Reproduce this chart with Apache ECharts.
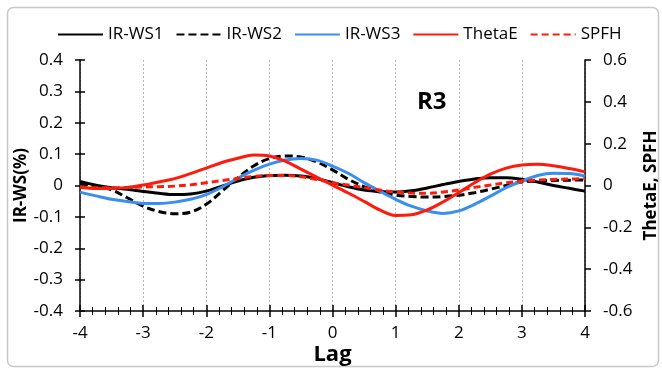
<!DOCTYPE html>
<html>
	<head>
		<meta charset="utf-8">
		<title>R3</title>
		<script src="https://cdn.jsdelivr.net/npm/echarts@6/dist/echarts.min.js"></script>
	</head>
	<body style="margin:0;background:#fff">
		<div id="container" style="width:662px;height:370px;"></div>
		<script type="text/javascript">
			// lag values (x axis), every 0.25
			var lags = [-4, -3.75, -3.5, -3.25, -3, -2.75, -2.5, -2.25, -2, -1.75, -1.5, -1.25, -1, -0.75, -0.5, -0.25,
				0, 0.25, 0.5, 0.75, 1, 1.25, 1.5, 1.75, 2, 2.25, 2.5, 2.75, 3, 3.25, 3.5, 3.75, 4];
			// left axis series: IR-WS (%)
			var irws1 = [0.013, 0.001, -0.007, -0.012, -0.019, -0.025, -0.029, -0.027, -0.018, -0.002, 0.014, 0.026, 0.032, 0.033, 0.030, 0.022,
				0.009, -0.004, -0.014, -0.019, -0.021, -0.017, -0.008, 0.003, 0.013, 0.021, 0.025, 0.025, 0.020, 0.011, 0.000, -0.009, -0.018];
			var irws2 = [0.005, -0.002, -0.014, -0.039, -0.066, -0.083, -0.090, -0.085, -0.060, -0.018, 0.025, 0.062, 0.086, 0.094, 0.091, 0.075,
				0.050, 0.020, -0.004, -0.021, -0.031, -0.035, -0.037, -0.035, -0.031, -0.023, -0.012, 0.000, 0.011, 0.015, 0.016, 0.017, 0.018];
			var irws3 = [-0.021, -0.033, -0.044, -0.051, -0.057, -0.057, -0.053, -0.044, -0.029, -0.005, 0.023, 0.048, 0.068, 0.081, 0.086, 0.081,
				0.062, 0.039, 0.009, -0.018, -0.044, -0.066, -0.081, -0.089, -0.081, -0.060, -0.034, -0.007, 0.014, 0.032, 0.039, 0.038, 0.030];
			// right axis series: ThetaE, SPFH
			var thetaE = [-0.010, -0.014, -0.014, -0.009, 0.002, 0.017, 0.033, 0.057, 0.083, 0.110, 0.130, 0.146, 0.141, 0.117, 0.078, 0.040,
				0.002, -0.036, -0.076, -0.117, -0.143, -0.140, -0.117, -0.079, -0.034, 0.013, 0.054, 0.083, 0.098, 0.101, 0.094, 0.081, 0.065];
			var spfh = [-0.006, -0.011, -0.011, -0.009, -0.007, -0.006, -0.003, 0.003, 0.013, 0.024, 0.034, 0.043, 0.048, 0.048, 0.042, 0.029,
				0.013, 0.002, -0.010, -0.022, -0.031, -0.036, -0.037, -0.031, -0.022, -0.009, 0.002, 0.013, 0.021, 0.026, 0.029, 0.031, 0.032];

			var FONT = '"Open Sans", sans-serif';
			function pairs(arr) {
				return lags.map(function (x, i) { return [x, arr[i]]; });
			}
			function fmt(v) {
				return v === 0 ? '0' : v.toFixed(1);
			}
			function line(name, arr, color, type, yIdx) {
				return {
					name: name,
					type: 'line',
					yAxisIndex: yIdx,
					smooth: 0.35,
					showSymbol: false,
					data: pairs(arr),
					lineStyle: { color: color, width: 3, type: type },
					itemStyle: { color: color }
				};
			}

			var option = {
				animation: false,
				textStyle: { fontFamily: FONT },
				legend: {
					left: 52,
					top: 21,
					itemWidth: 45,
					itemHeight: 12,
					itemGap: 12,
					itemStyle: { opacity: 0 },
					textStyle: { fontSize: 17, color: '#000', fontFamily: FONT }
				},
				grid: [
					{ left: 80, right: 77, top: 60, bottom: 59, outerBoundsMode: 'none' },
					{ left: 80, right: 77, top: 60, bottom: 59, outerBoundsMode: 'none' }
				],
				xAxis: [
					{
						type: 'value', min: -4, max: 4, interval: 1,
						name: 'Lag', nameLocation: 'middle', nameGap: 33, nameMoveOverlap: false,
						nameTextStyle: { fontSize: 22, fontWeight: 'bold', color: '#000', fontFamily: FONT },
						axisLine: { onZero: false, lineStyle: { color: '#000', width: 1.5 } },
						axisTick: { length: 6, lineStyle: { color: '#000', width: 1.5 } },
						minorTick: { show: true, splitNumber: 5, length: 4, lineStyle: { color: '#000', width: 1 } },
						axisLabel: { margin: 14, fontSize: 17, color: '#000', fontFamily: FONT },
						splitLine: { show: true, lineStyle: { color: '#b8b8b8', type: [2, 2], width: 1 } }
					},
					{
						gridIndex: 1, type: 'value', min: -4, max: 4, interval: 1,
						axisLine: { show: false, onZero: false },
						axisTick: { inside: true, length: 6, lineStyle: { color: '#000', width: 1.5 } },
						minorTick: { show: true, splitNumber: 5, length: 4, lineStyle: { color: '#000', width: 1 } },
						axisLabel: { show: false },
						splitLine: { show: false }
					}
				],
				yAxis: [
					{
						type: 'value', min: -0.4, max: 0.4, interval: 0.1, position: 'left',
						name: 'IR-WS(%)', nameLocation: 'middle', nameGap: 50, nameMoveOverlap: false,
						nameTextStyle: { fontSize: 17, fontWeight: 'bold', color: '#000', fontFamily: FONT },
						axisLine: { show: true, onZero: false, lineStyle: { color: '#000', width: 1.5 } },
						axisTick: { show: true, length: 5, lineStyle: { color: '#000', width: 1.5 } },
						axisLabel: { margin: 17, fontSize: 17, color: '#000', fontFamily: FONT, formatter: fmt },
						splitLine: { show: false }
					},
					{
						type: 'value', min: -0.6, max: 0.6, interval: 0.2, position: 'right',
						name: 'ThetaE, SPFH', nameLocation: 'middle', nameGap: 58, nameMoveOverlap: false,
						nameTextStyle: { fontSize: 17, fontWeight: 'bold', color: '#000', fontFamily: FONT },
						axisLine: { show: true, onZero: false, lineStyle: { color: '#000', width: 1.5 } },
						axisTick: { show: true, length: 6, lineStyle: { color: '#000', width: 1.5 } },
						axisLabel: { margin: 18, fontSize: 17, color: '#000', fontFamily: FONT, formatter: fmt },
						splitLine: { show: false }
					},
					{
						gridIndex: 1, type: 'value', min: -0.4, max: 0.4, interval: 0.1, position: 'left',
						axisLine: { show: false, onZero: false },
						axisTick: { show: true, inside: true, length: 5, lineStyle: { color: '#000', width: 1.5 } },
						axisLabel: { show: false },
						splitLine: { show: false }
					}
				],
				graphic: [
					{
						type: 'rect', left: 5, top: 5, z: -10,
						shape: { width: 651, height: 359, r: 6 },
						style: { fill: 'none', stroke: '#c8c8c8', lineWidth: 1.5 }
					},
					{
						type: 'text', left: 417, top: 90,
						style: { text: 'R3', fontSize: 24, fontWeight: 'bold', fill: '#000', fontFamily: FONT }
					}
				],
				series: [
					line('IR-WS1', irws1, '#000000', 'solid', 0),
					line('IR-WS2', irws2, '#000000', [8, 4], 0),
					line('IR-WS3', irws3, '#3a8ef0', 'solid', 0),
					line('ThetaE', thetaE, '#ff1a0a', 'solid', 1),
					line('SPFH', spfh, '#ff1a0a', [7, 4], 1)
				]
			};

			var myChart = echarts.init(document.getElementById('container'));
			myChart.setOption(option);
		</script>
	</body>
</html>
